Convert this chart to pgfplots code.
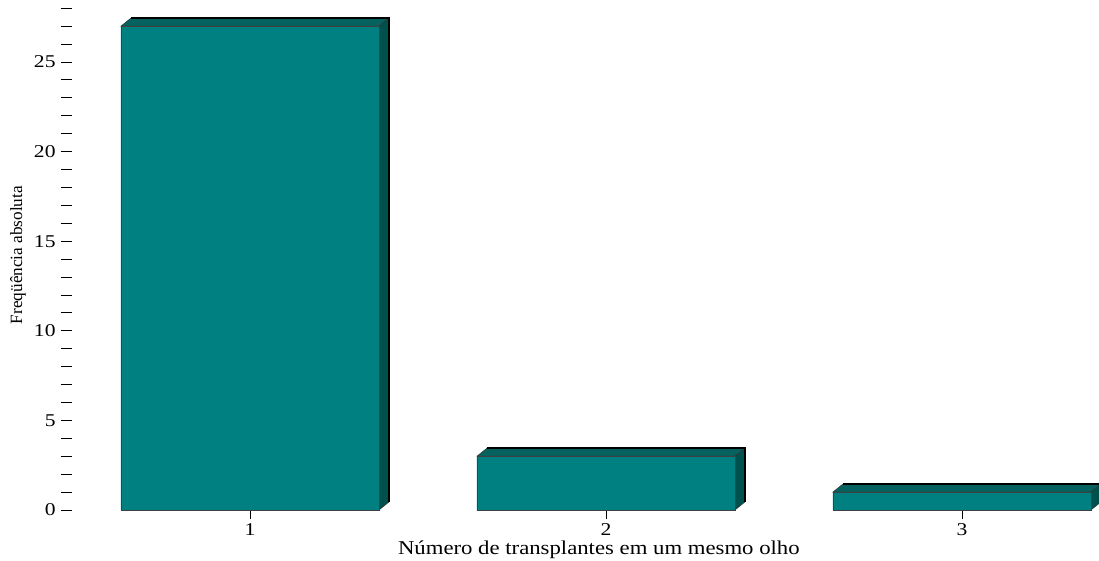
\documentclass[border=0pt]{standalone}
\usepackage{fontspec}
\setmainfont{Liberation Serif}
\usepackage{pgfplots}
\usepackage{pgfplotstable}
\pgfplotsset{compat=1.18}
\definecolor{front}{HTML}{008080}
\definecolor{topc}{HTML}{06625F}
\definecolor{sidec}{HTML}{00504E}
\pgfplotstableread{
x y
1 27
2 3
3 1
}\datatable
\begin{document}
\begin{tikzpicture}[x=1pt,y=1pt]
\path[use as bounding box] (0,0) rectangle (1099,560);
\begin{axis}[
  at={(72pt,50pt)}, anchor=south west,
  scale only axis, width=1027pt, height=501.8pt,
  xmin=0.5, xmax=3.385, ymin=0, ymax=28,
  clip=false,
  axis x line*=bottom, axis y line*=left,
  axis line style={draw=none},
  tick align=outside,
  xtick={1,2,3},
  ytick={0,5,10,15,20,25},
  minor ytick={1,2,3,4,6,7,8,9,11,12,13,14,16,17,18,19,21,22,23,24,26,27,28},
  major tick length=11pt, minor tick length=11pt,
  xtick style={black, line width=0.8pt, /pgfplots/major tick length=9pt},
  ytick style={black, line width=0.8pt},
  minor tick style={black!55, line width=0.8pt},
  /pgf/number format/assume math mode=true,
  ticklabel style={font=\fontsize{18}{20}\selectfont, xscale=1.2},
  yticklabel style={xshift=-1pt},
  xticklabel style={yshift=1pt},
  xlabel={Número de transplantes em um mesmo olho},
  ylabel={Freqüência absoluta},
  xlabel style={at={(axis description cs:0.513,-0.0797)}, anchor=center, xscale=1.16, font=\fontsize{19.6}{22}\selectfont},
  ylabel style={at={(axis description cs:-0.0526,0.508)}, anchor=center, rotate=0, font=\fontsize{17.2}{19}\selectfont},
]
% top faces
\addplot[fill=topc, draw=black!80, line width=0.5pt] coordinates {(0.6376,27) (0.6656,27.45) (1.3904,27.45) (1.3624,27)} --cycle;
\addplot[fill=topc, draw=black!80, line width=0.5pt] coordinates {(1.6376,3) (1.6656,3.45) (2.3904,3.45) (2.3624,3)} --cycle;
\addplot[fill=topc, draw=black!80, line width=0.5pt] coordinates {(2.6376,1) (2.6656,1.45) (3.3904,1.45) (3.3624,1)} --cycle;
% side faces
\addplot[fill=sidec, draw=black!80, line width=0.5pt] coordinates {(1.3624,0) (1.3904,0.45) (1.3904,27.45) (1.3624,27)} --cycle;
\addplot[fill=sidec, draw=black!80, line width=0.5pt] coordinates {(2.3624,0) (2.3904,0.45) (2.3904,3.45) (2.3624,3)} --cycle;
\addplot[fill=sidec, draw=black!80, line width=0.5pt] coordinates {(3.3624,0) (3.3904,0.45) (3.3904,1.45) (3.3624,1)} --cycle;
% back edges
\addplot[draw=black, line width=2pt] coordinates {(0.6656,27.45) (1.3904,27.45) (1.3904,0.45)};
\addplot[draw=black, line width=2pt] coordinates {(1.6656,3.45) (2.3904,3.45) (2.3904,0.45)};
\addplot[draw=black, line width=2pt] coordinates {(2.6656,1.45) (3.3904,1.45) (3.3904,0.45)};
% front faces
\addplot[ybar, bar width=0.7248, fill=front, draw=black!75, line width=0.6pt] table {\datatable};
\end{axis}
\end{tikzpicture}
\end{document}
